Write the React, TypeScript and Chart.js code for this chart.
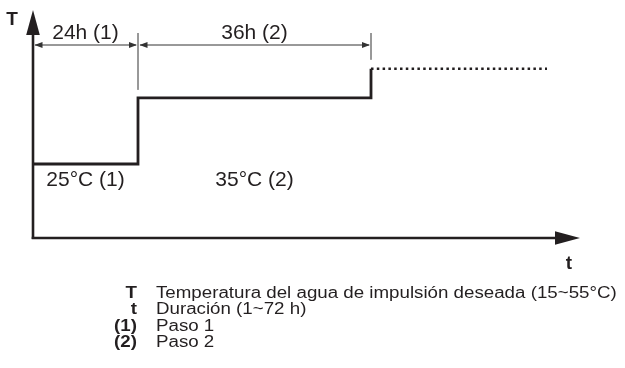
import React, { useEffect, useRef } from "react";
import { Chart, registerables } from "chart.js";

Chart.register(...registerables);

// Schematic step program (x in schematic time units, y in °C)
const stepBoundaries = [0, 10.5, 33.8];
const stepTemps = [25, 35];
const continuationX = [33.8, 51.4];
const continuationTemp = 39.4;
const durationLabels = ["24h (1)", "36h (2)"];
const tempLabels = ["25°C (1)", "35°C (2)"];
const axisLabelY = "T";
const axisLabelX = "t";
const legendKeys = ["T", "t", "(1)", "(2)"];
const legendTexts = [
  "Temperatura del agua de impulsión deseada (15~55°C)",
  "Duración (1~72 h)",
  "Paso 1",
  "Paso 2",
];

const INK = "#231f20";
const FONT = "'Liberation Sans', Arial, sans-serif";

function arrow(ctx: CanvasRenderingContext2D, tipX: number, tipY: number, dx: number, dy: number, len: number, half: number) {
  const bx = tipX - dx * len;
  const by = tipY - dy * len;
  const px = -dy;
  const py = dx;
  ctx.beginPath();
  ctx.moveTo(tipX, tipY);
  ctx.lineTo(bx + px * half, by + py * half);
  ctx.lineTo(bx - px * half, by - py * half);
  ctx.closePath();
  ctx.fill();
}

const schematicPlugin = {
  id: "schematic",
  afterDatasetsDraw(chart: any) {
    const ctx: CanvasRenderingContext2D = chart.ctx;
    const xs = chart.scales.x;
    const ys = chart.scales.y;
    const area = chart.chartArea;
    const x0 = xs.getPixelForValue(stepBoundaries[0]);
    const yBase = area.bottom;
    ctx.save();
    ctx.fillStyle = INK;
    ctx.strokeStyle = INK;

    // Y axis
    ctx.lineWidth = 2.6;
    ctx.beginPath();
    ctx.moveTo(x0, yBase + 1);
    ctx.lineTo(x0, area.top + 20);
    ctx.stroke();
    arrow(ctx, x0, area.top, 0, -1, 25, 6.8);

    // X axis
    ctx.beginPath();
    ctx.moveTo(x0 - 1.3, yBase);
    ctx.lineTo(area.right - 20, yBase);
    ctx.stroke();
    arrow(ctx, area.right, yBase, 1, 0, 25, 6.8);

    // axis labels
    ctx.font = `bold 19px ${FONT}`;
    ctx.textAlign = "center";
    ctx.textBaseline = "alphabetic";
    ctx.fillText(axisLabelY, x0 - 21, area.top + 15);
    ctx.fillText(axisLabelX, area.right - 11, yBase + 31);

    // dimension lines
    const dimY = area.top + 35;
    ctx.lineWidth = 1;
    ctx.strokeStyle = "#333";
    for (let i = 0; i < durationLabels.length; i++) {
      const a = xs.getPixelForValue(stepBoundaries[i]);
      const b = xs.getPixelForValue(stepBoundaries[i + 1]);
      ctx.beginPath();
      ctx.moveTo(a + 2, dimY);
      ctx.lineTo(b - 2, dimY);
      ctx.stroke();
      ctx.fillStyle = "#333";
      arrow(ctx, a + 1.5, dimY, -1, 0, 8, 3);
      arrow(ctx, b - 1, dimY, 1, 0, 8, 3);
      ctx.fillStyle = INK;
      ctx.font = `21px ${FONT}`;
      ctx.textAlign = "center";
      ctx.fillText(durationLabels[i], (a + b) / 2, dimY - 6);
    }
    // extension lines
    const b1 = xs.getPixelForValue(stepBoundaries[1]);
    const b2 = xs.getPixelForValue(stepBoundaries[2]);
    ctx.beginPath();
    ctx.moveTo(b1, dimY - 12);
    ctx.lineTo(b1, ys.getPixelForValue(stepTemps[1]) - 8);
    ctx.moveTo(b2, dimY - 12);
    ctx.lineTo(b2, ys.getPixelForValue(continuationTemp) - 9);
    ctx.stroke();

    // temperature labels
    ctx.fillStyle = INK;
    ctx.font = `21px ${FONT}`;
    const labY = ys.getPixelForValue(stepTemps[0]) + 22;
    for (let i = 0; i < tempLabels.length; i++) {
      const a = xs.getPixelForValue(stepBoundaries[i]);
      const b = xs.getPixelForValue(stepBoundaries[i + 1]);
      ctx.fillText(tempLabels[i], (a + b) / 2, labY);
    }
    ctx.restore();
  },
};

export default function App() {
  const ref = useRef<HTMLCanvasElement | null>(null);
  useEffect(() => {
    if (!ref.current) return;
    const stepPoints: { x: number; y: number }[] = [];
    for (let i = 0; i < stepTemps.length; i++) {
      stepPoints.push({ x: stepBoundaries[i], y: stepTemps[i] });
      stepPoints.push({ x: stepBoundaries[i + 1], y: stepTemps[i] });
    }
    stepPoints.push({ x: continuationX[0], y: continuationTemp });
    const chart = new Chart(ref.current, {
      type: "line",
      data: {
        datasets: [
          {
            data: stepPoints,
            borderColor: INK,
            borderWidth: 2.8,
            pointRadius: 0,
            tension: 0,
            borderJoinStyle: "miter",
            borderCapStyle: "butt",
          },
          {
            data: continuationX.map((x) => ({ x, y: continuationTemp })),
            borderColor: INK,
            borderWidth: 2.6,
            borderDash: [2.5, 3.3],
            pointRadius: 0,
            tension: 0,
          },
        ],
      },
      options: {
        animation: false,
        responsive: false,
        parsing: false as any,
        layout: { padding: { left: 33, right: 45, top: 10, bottom: 130 } },
        plugins: { legend: { display: false }, tooltip: { enabled: false } },
        scales: {
          x: { type: "linear", min: 0, max: 54.7, display: false },
          y: { type: "linear", min: 13.8, max: 48.3, display: false },
        },
      },
      plugins: [schematicPlugin],
    });
    return () => chart.destroy();
  }, []);

  return (
    <div style={{ position: "fixed", left: 0, top: 0, width: 625, height: 368, background: "#fff" }}>
      <canvas ref={ref} width={625} height={368} style={{ position: "absolute", left: 0, top: 0 }} />
      <div style={{ position: "absolute", left: 0, top: 285, fontFamily: FONT, fontSize: 16, lineHeight: "16.3px", color: INK }}>
        {legendKeys.map((k, i) => (
          <div key={k} style={{ position: "relative", height: 16.3, whiteSpace: "nowrap" }}>
            <span
              style={{
                position: "absolute",
                left: 97,
                width: 40,
                textAlign: "right",
                fontWeight: "bold",
                transform: "scaleX(1.17)",
                transformOrigin: "right center",
              }}
            >
              {k}
            </span>
            <span
              style={{
                position: "absolute",
                left: 156,
                transform: "scaleX(1.17)",
                transformOrigin: "left center",
              }}
            >
              {legendTexts[i]}
            </span>
          </div>
        ))}
      </div>
    </div>
  );
}
